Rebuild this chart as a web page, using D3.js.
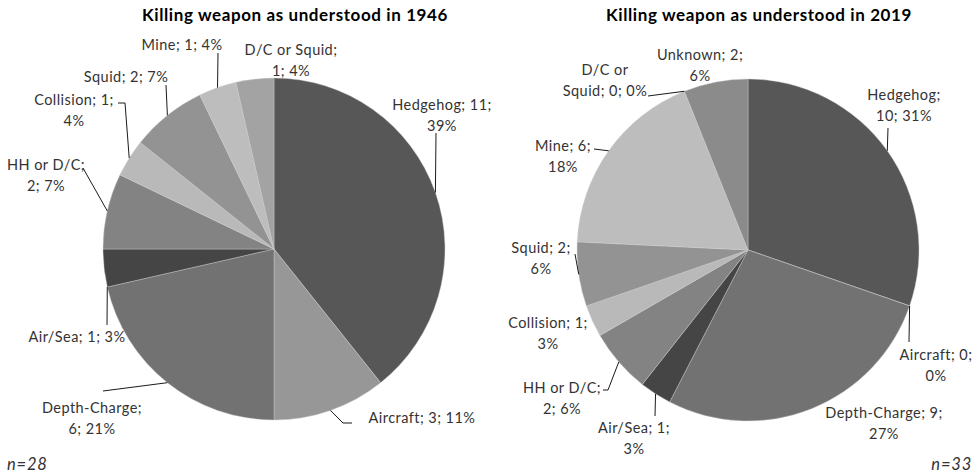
<!DOCTYPE html>
<html>
<head>
<meta charset="utf-8">
<script src="https://cdn.jsdelivr.net/npm/d3@7"></script>
<style>
  html, body { margin: 0; padding: 0; background: #fff; }
  svg { display: block; }
  text { font-family: Lato, "Open Sans", sans-serif; }
</style>
</head>
<body>
<svg id="chart" width="980" height="474"></svg>
<script>
// ---------- DATA ----------
const categories1946 = ["Hedgehog", "Aircraft", "Depth-Charge", "Air/Sea", "HH or D/C", "Collision", "Squid", "Mine", "D/C or Squid"];
const values1946     = [11, 3, 6, 1, 2, 1, 2, 1, 1];
const percents1946   = ["39%", "11%", "21%", "3%", "7%", "4%", "7%", "4%", "4%"];

const categories2019 = ["Hedgehog", "Aircraft", "Depth-Charge", "Air/Sea", "HH or D/C", "Collision", "Squid", "Mine", "D/C or Squid", "Unknown"];
const values2019     = [10, 0, 9, 1, 2, 1, 2, 6, 0, 2];
const percents2019   = ["31%", "0%", "27%", "3%", "6%", "3%", "6%", "18%", "0%", "6%"];

const titles = ["Killing weapon as understood in 1946", "Killing weapon as understood in 2019"];
const nLabels = ["n=28", "n=33"];

// ---------- STYLE / LAYOUT ----------
const colors = {
  "Hedgehog": "#575757",
  "Aircraft": "#979797",
  "Depth-Charge": "#727272",
  "Air/Sea": "#454545",
  "HH or D/C": "#838383",
  "Collision": "#b9b9b9",
  "Squid": "#939393",
  "Mine": "#bdbdbd",
  "D/C or Squid": "#a3a3a3",
  "Unknown": "#8b8b8b"
};

// label layout (relative to pie center): text line breaks, text centre, leader polyline, attach fraction on slice arc
const layout1946 = {
  "Hedgehog":     { lines: (v,p) => [`Hedgehog; ${v};`, p], x: 168, y: -144, leader: [[162, -116]] },
  "Aircraft":     { lines: (v,p) => [`Aircraft; ${v}; ${p}`], x: 148, y: 169, leader: [[78, 174], [69, 174]] },
  "Depth-Charge": { lines: (v,p) => ["Depth-Charge;", `${v}; ${p}`], x: -182, y: 159, leader: [[-171, 142]] },
  "Air/Sea":      { lines: (v,p) => [`Air/Sea; ${v}; ${p}`], x: -197, y: 88, leader: [[-167, 76]], attach: 0 },
  "HH or D/C":    { lines: (v,p) => ["HH or D/C;", `${v}; ${p}`], x: -228, y: -84, leader: [[-191, -81]] },
  "Collision":    { lines: (v,p) => [`Collision; ${v};`, p], x: -200, y: -149, leader: [[-156, -146], [-149, -146]] },
  "Squid":        { lines: (v,p) => [`Squid; ${v}; ${p}`], x: -148, y: -172, leader: [[-108, -164]] },
  "Mine":         { lines: (v,p) => [`Mine; ${v}; ${p}`], x: -92, y: -204, leader: [[-56, -196]] },
  "D/C or Squid": { lines: (v,p) => ["D/C or Squid;", `${v}; ${p}`], x: 17, y: -199, leader: null }
};
const layout2019 = {
  "Hedgehog":     { lines: (v,p) => ["Hedgehog;", `${v}; ${p}`], x: 156, y: -155, leader: [[140, -122]] },
  "Aircraft":     { lines: (v,p) => [`Aircraft; ${v};`, p], x: 188, y: 105, leader: [[161, 92]] },
  "Depth-Charge": { lines: (v,p) => [`Depth-Charge; ${v};`, p], x: 136, y: 163, leader: null },
  "Air/Sea":      { lines: (v,p) => [`Air/Sea; ${v};`, p], x: -114, y: 178, leader: [[-93, 166]] },
  "HH or D/C":    { lines: (v,p) => ["HH or D/C;", `${v}; ${p}`], x: -186, y: 138, leader: [[-145, 140], [-140, 140]] },
  "Collision":    { lines: (v,p) => [`Collision; ${v};`, p], x: -200, y: 73, leader: null },
  "Squid":        { lines: (v,p) => [`Squid; ${v};`, p], x: -207, y: -2, leader: [[-173, 4]] },
  "Mine":         { lines: (v,p) => [`Mine; ${v};`, p], x: -185, y: -104, leader: [[-154, -101]] },
  "D/C or Squid": { lines: (v,p) => ["D/C or", `Squid; ${v}; ${p}`], x: -143, y: -180, leader: [[-100, -154]] },
  "Unknown":      { lines: (v,p) => [`Unknown; ${v};`, p], x: -48, y: -195, leader: null }
};

const svg = d3.select("#chart");
const R = 171;
const lineH = 21;

const pies = [
  { cats: categories1946, vals: values1946, pcts: percents1946, layout: layout1946, cx: 274, cy: 249, title: titles[0], titleX: 295, n: nLabels[0] },
  { cats: categories2019, vals: values2019, pcts: percents2019, layout: layout2019, cx: 748, cy: 250, title: titles[1], titleX: 759, n: nLabels[1] }
];

const pie = d3.pie().sort(null).value(d => d.value);
const arc = d3.arc().innerRadius(0).outerRadius(R);

pies.forEach((P, idx) => {
  const data = P.cats.map((c, i) => ({ cat: c, value: P.vals[i], pct: P.pcts[i] }));
  const arcs = pie(data);
  const g = svg.append("g").attr("transform", `translate(${P.cx},${P.cy})`);

  g.selectAll("path.slice").data(arcs).join("path")
    .attr("class", "slice")
    .attr("d", arc)
    .attr("fill", d => colors[d.data.cat])
    .attr("stroke", "#d0d0d0")
    .attr("stroke-width", 0.4);

  // leaders
  arcs.forEach(a => {
    const L = P.layout[a.data.cat];
    if (!L || !L.leader) return;
    const f = (L.attach === undefined) ? 0.5 : L.attach;
    const ang = a.startAngle + (a.endAngle - a.startAngle) * f;
    const end = [R * Math.sin(ang), -R * Math.cos(ang)];
    const pts = L.leader.concat([end]);
    g.append("path")
      .attr("d", d3.line()(pts))
      .attr("fill", "none")
      .attr("stroke", "#1a1a1a")
      .attr("stroke-width", 1);
  });

  // labels
  arcs.forEach(a => {
    const L = P.layout[a.data.cat];
    const lines = L.lines(a.data.value, a.data.pct);
    const t = g.append("text")
      .attr("text-anchor", "middle")
      .attr("font-size", 14.5)
      .attr("letter-spacing", 0.45)
      .attr("fill", "#333");
    lines.forEach((ln, k) => {
      t.append("tspan")
        .attr("x", L.x)
        .attr("y", L.y + k * lineH)
        .attr("dy", "0.35em")
        .text(ln);
    });
  });

  svg.append("text")
    .attr("x", P.titleX).attr("y", 21)
    .attr("text-anchor", "middle")
    .attr("font-size", 17)
    .attr("letter-spacing", 0.6)
    .attr("font-weight", "bold")
    .attr("fill", "#000")
    .text(P.title);

  svg.append("text")
    .attr("x", idx === 0 ? 7 : 972).attr("y", 470)
    .attr("text-anchor", idx === 0 ? "start" : "end")
    .attr("font-size", 16.5)
    .attr("letter-spacing", 0.8)
    .attr("font-style", "italic")
    .attr("fill", "#333")
    .text(P.n);
});
</script>
</body>
</html>
